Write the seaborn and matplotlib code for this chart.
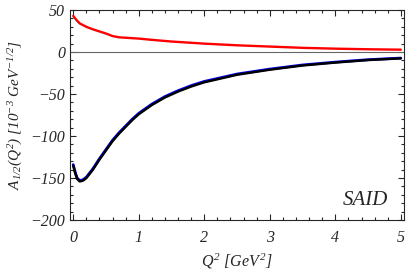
import numpy as np
import pandas as pd
import matplotlib
matplotlib.use('Agg')
import matplotlib.pyplot as plt
import seaborn as sns
from matplotlib.ticker import MultipleLocator

sns.set_style('ticks')
plt.rcParams['font.family'] = ['Liberation Serif', 'DejaVu Serif']
plt.rcParams['font.style'] = 'italic'
plt.rcParams['mathtext.fontset'] = 'custom'
plt.rcParams['mathtext.rm'] = 'Liberation Serif:italic'
plt.rcParams['mathtext.it'] = 'Liberation Serif:italic'

# red curve (A_1/2 positive branch)
q_red = [0, 0.05, 0.1, 0.2, 0.3, 0.4, 0.5, 0.6, 0.7, 0.8, 1.0, 1.2, 1.5,
         2.0, 2.5, 3.0, 3.5, 4.0, 4.5, 5.0]
a_red = [43, 38, 34, 30, 27, 24.5, 22, 19, 17.5, 17, 16, 14.5, 12.5,
         10, 8, 6.5, 5, 4, 3.3, 2.8]

# black / blue curves (negative branch)
q_neg = [0, 0.03, 0.06, 0.1, 0.15, 0.2, 0.3, 0.4, 0.5, 0.6, 0.7, 0.8, 0.9,
         1.0, 1.2, 1.4, 1.6, 1.8, 2.0, 2.5, 3.0, 3.5, 4.0, 4.5, 5.0]
a_black = [-135, -144, -151, -154, -153, -150, -140, -128, -117, -106, -97,
           -89, -81, -74, -63, -54, -47, -41, -36, -27, -21, -16, -12.5,
           -9.5, -7.5]
a_blue = [-134, -143, -150, -153, -152, -149, -139, -127, -116, -105, -96,
          -88, -80, -73, -62, -53, -46, -40, -35, -26.2, -20.3, -15.4,
          -12, -9.1, -7.2]

fig = plt.figure(figsize=(4.09, 2.71), dpi=100)
ax = fig.add_axes([0.171, 0.188, 0.817, 0.775])

ax.axhline(0, color='#666666', lw=0.8, zorder=1)
sns.lineplot(x=q_red, y=a_red, color='red', lw=1.7, ax=ax)
sns.lineplot(x=q_neg, y=a_blue, color='blue', lw=2.0, ax=ax)
sns.lineplot(x=q_neg, y=a_black, color='black', lw=1.8, ax=ax)

ax.set_xlim(-0.05, 5.05)
ax.set_ylim(-200, 50)
ax.xaxis.set_major_locator(MultipleLocator(1))
ax.xaxis.set_minor_locator(MultipleLocator(0.2))
ax.yaxis.set_major_locator(MultipleLocator(50))
ax.yaxis.set_minor_locator(MultipleLocator(10))
ax.tick_params(which='both', direction='in', top=True, right=True,
               labelsize=11.5, width=0.8)
ax.tick_params(which='major', length=4)
ax.tick_params(which='minor', length=2)
ax.tick_params(axis='x', pad=7)
for s in ax.spines.values():
    s.set_linewidth(0.8)

ax.set_xlabel(r'$Q^2\ [GeV^2]$', fontsize=11.5, labelpad=4)
ax.set_ylabel(r'$A_{1/2}(Q^2)\ [10^{-3}\ GeV^{-1/2}]$', fontsize=11)
ax.text(0.952, 0.095, 'SAID', transform=ax.transAxes, ha='right', va='center',
        fontsize=15, style='italic')

fig.savefig('out.png', dpi=100)
